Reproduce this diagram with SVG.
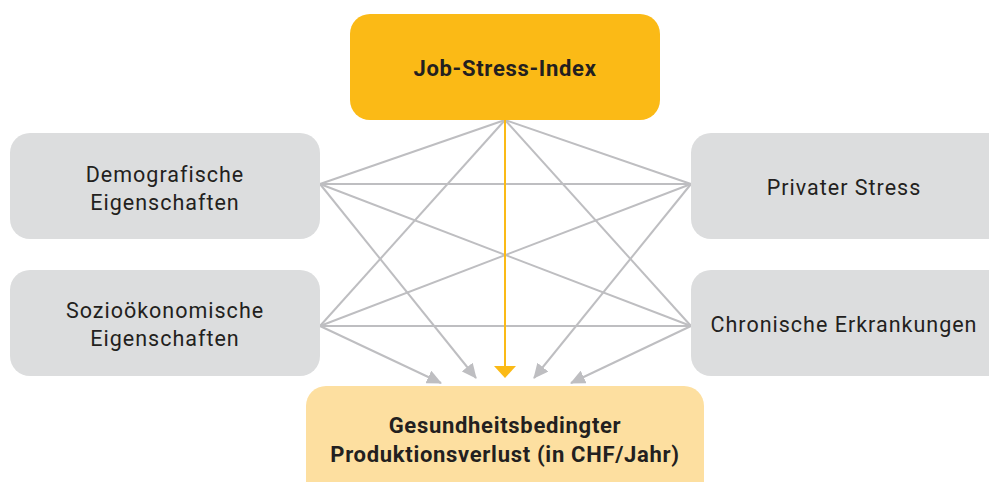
<svg xmlns="http://www.w3.org/2000/svg" width="989" height="482" viewBox="0 0 989 482">
  <style>
    .side { fill: #DCDDDE; }
    .lbl { font-family: Roboto, "Liberation Sans", sans-serif; font-size: 21.5px; fill: #231F20; text-anchor: middle; letter-spacing: 1px; }
    .bold { font-family: Roboto, "Liberation Sans", sans-serif; font-weight: bold; font-size: 22px; fill: #231F20; text-anchor: middle; letter-spacing: 0.7px; }
    .link { stroke: #BEBEC1; stroke-width: 2; fill: none; }
    .main { stroke: #FBBA16; stroke-width: 2; fill: none; }
  </style>
  <defs>
    <marker id="arrGrey" viewBox="0 0 15 14" refX="14" refY="7" markerWidth="15" markerHeight="14" markerUnits="userSpaceOnUse" orient="auto">
      <path d="M0,0 L15,7 L0,14 Z" fill="#BEBEC1"/>
    </marker>
    <marker id="arrYellow" viewBox="0 0 12 22" refX="11" refY="11" markerWidth="12" markerHeight="22" markerUnits="userSpaceOnUse" orient="auto">
      <path d="M0,0 L12,11 L0,22 Z" fill="#FBBA16"/>
    </marker>
  </defs>

  <g id="connectors">
    <!-- hub to side anchors -->
    <line class="link" x1="505" y1="120" x2="320" y2="184"/>
    <line class="link" x1="505" y1="120" x2="320" y2="326"/>
    <line class="link" x1="505" y1="120" x2="691" y2="184"/>
    <line class="link" x1="505" y1="120" x2="691" y2="326"/>
    <!-- links between side anchors -->
    <line class="link" x1="320" y1="184" x2="691" y2="184"/>
    <line class="link" x1="320" y1="326" x2="691" y2="326"/>
    <line class="link" x1="320" y1="184" x2="691" y2="326"/>
    <line class="link" x1="320" y1="326" x2="691" y2="184"/>
    <!-- arrows into the outcome -->
    <line class="link" x1="320" y1="184" x2="476" y2="378" marker-end="url(#arrGrey)"/>
    <line class="link" x1="320" y1="326" x2="441" y2="383" marker-end="url(#arrGrey)"/>
    <line class="link" x1="691" y1="184" x2="534" y2="378" marker-end="url(#arrGrey)"/>
    <line class="link" x1="691" y1="326" x2="571" y2="383" marker-end="url(#arrGrey)"/>
    <line class="main" x1="505" y1="120" x2="505" y2="377" marker-end="url(#arrYellow)"/>
  </g>

  <g id="job-stress-index">
    <rect x="350" y="14" width="310" height="106" rx="20" fill="#FBBA16"/>
    <text class="bold" x="505" y="76">Job-Stress-Index</text>
  </g>

  <g id="demografische">
    <rect class="side" x="10" y="133" width="310" height="106" rx="20"/>
    <text class="lbl" x="165" y="182">Demografische</text>
    <text class="lbl" x="165" y="210">Eigenschaften</text>
  </g>

  <g id="soziooekonomische">
    <rect class="side" x="10" y="270" width="310" height="106" rx="20"/>
    <text class="lbl" x="165" y="318">Sozioökonomische</text>
    <text class="lbl" x="165" y="346">Eigenschaften</text>
  </g>

  <g id="privater-stress">
    <rect class="side" x="691" y="133" width="318" height="106" rx="20"/>
    <text class="lbl" x="844" y="195">Privater Stress</text>
  </g>

  <g id="chronische-erkrankungen">
    <rect class="side" x="691" y="270" width="318" height="106" rx="20"/>
    <text class="lbl" x="844" y="332">Chronische Erkrankungen</text>
  </g>

  <g id="produktionsverlust">
    <rect x="306" y="386" width="398" height="120" rx="20" fill="#FDDFA0"/>
    <text class="bold" x="505" y="433">Gesundheitsbedingter</text>
    <text class="bold" x="505" y="462">Produktionsverlust (in CHF/Jahr)</text>
  </g>
</svg>
